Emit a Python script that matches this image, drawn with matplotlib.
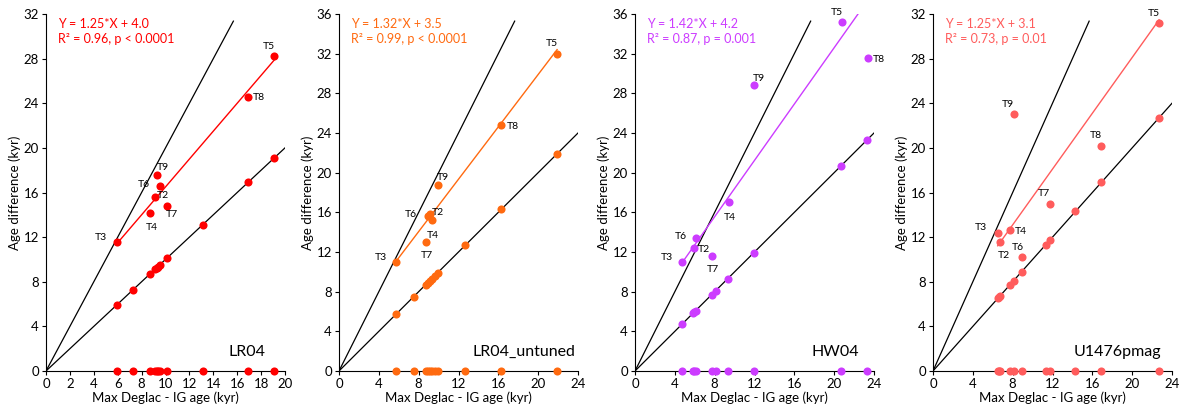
import matplotlib
matplotlib.use('Agg')
import matplotlib.pyplot as plt

plt.rcParams['font.family'] = ['Lato', 'DejaVu Sans']

# panel names, colours, fit text
names = ['LR04', 'LR04_untuned', 'HW04', 'U1476pmag']
colors = ['#FF0000', '#FF6A10', '#CC3CFF', '#FF5C5C']
fit_slope = [1.25, 1.32, 1.42, 1.25]
fit_icpt = [4.0, 3.5, 4.2, 3.1]
fit_r2 = ['0.96', '0.99', '0.87', '0.73']
fit_p = ['p < 0.0001', 'p < 0.0001', 'p = 0.001', 'p = 0.01']
xmax = [20, 24, 24, 24]
ymax = [32, 36, 36, 32]
xstep = [2, 4, 4, 4]

# max deglac - IG age, all terminations (1:1 line and zero line)
lr04_all = [5.9, 7.3, 8.7, 9.1, 9.25, 9.35, 9.5, 10.1, 13.1, 16.9, 19.1]
untuned_all = [5.7, 7.5, 8.7, 8.9, 9.1, 9.3, 9.6, 9.9, 12.7, 16.3, 21.9]
hw04_all = [4.7, 5.8, 5.95, 6.1, 7.7, 8.1, 9.3, 11.9, 20.7, 23.3]
u1476_all = [6.5, 6.6, 6.75, 7.7, 8.1, 8.9, 11.3, 11.7, 14.3, 16.9, 22.7]

# labelled terminations: x, age difference
terms = ['T2', 'T3', 'T4', 'T5', 'T6', 'T7', 'T8', 'T9']
lr04_x = [9.1, 5.9, 8.7, 19.1, 9.5, 10.1, 16.9, 9.3]
lr04_y = [15.6, 11.6, 14.2, 28.2, 16.6, 14.8, 24.6, 17.6]
untuned_x = [9.1, 5.7, 9.3, 21.9, 8.9, 8.7, 16.3, 9.9]
untuned_y = [15.8, 11.0, 15.2, 32.0, 15.6, 13.0, 24.8, 18.8]
hw04_x = [5.9, 4.7, 9.4, 20.8, 6.1, 7.7, 23.4, 11.9]
hw04_y = [12.4, 11.0, 17.0, 35.2, 13.4, 11.6, 31.6, 28.8]
u1476_x = [6.7, 6.5, 7.7, 22.7, 8.9, 11.7, 16.9, 8.1]
u1476_y = [11.6, 12.4, 12.6, 31.2, 10.2, 15.0, 20.2, 23.0]

all_x = [lr04_all, untuned_all, hw04_all, u1476_all]
term_x = [lr04_x, untuned_x, hw04_x, u1476_x]
term_y = [lr04_y, untuned_y, hw04_y, u1476_y]

# label offsets (points) for each panel, in the order of terms
offs = [
    [(6, 1), (-11, 3), (1, -11), (-4, 7), (-11, 1), (4, -6), (8, -1), (4, 5)],
    [(6, 1), (-11, 3), (1, -11), (-4, 7), (-12, 1), (1, -10), (8, -1), (4, 5)],
    [(7, -1), (-11, 3), (1, -11), (-4, 7), (-11, 1), (1, -10), (8, -1), (4, 5)],
    [(3, -10), (-12, 4), (8, -1), (-4, 7), (-3, 7), (-4, 7), (-4, 7), (-4, 7)],
]
name_x = [0.92, 0.987, 0.937, 0.954]

fig = plt.figure(figsize=(11.85, 4.17), dpi=100)
lefts = [46, 339, 635, 933]

for i in range(4):
    ax = fig.add_axes([lefts[i] / 1185, 46 / 417, 239 / 1185, 357 / 417])
    c = colors[i]
    xm, ym = xmax[i], ymax[i]
    ax.plot([0, xm], [0, xm], color='black', lw=0.9, zorder=1)
    ax.plot([0, ym / 2 * 0.98], [0, ym * 0.98], color='black', lw=0.9, zorder=1)
    xs = term_x[i]
    ys = term_y[i]
    xa, xb = min(xs), max(xs)
    ax.plot([xa, xb], [fit_slope[i] * xa + fit_icpt[i], fit_slope[i] * xb + fit_icpt[i]],
            color=c, lw=1.0, zorder=2)
    ax.scatter(all_x[i], all_x[i], s=34, color=c, zorder=3, linewidths=0)
    ax.scatter(all_x[i], [0] * len(all_x[i]), s=34, color=c, zorder=3,
               linewidths=0, clip_on=False)
    ax.scatter(xs, ys, s=34, color=c, zorder=3, linewidths=0, clip_on=False)
    for t, x, y, o in zip(terms, xs, ys, offs[i]):
        ax.annotate(t, (x, y), xytext=o, textcoords='offset points',
                    fontsize=7.5, ha='center', va='center')
    ax.text(0.05, 0.99, f'Y = {fit_slope[i]:.2f}*X + {fit_icpt[i]:.1f}',
            transform=ax.transAxes, color=c, fontsize=9, va='top')
    ax.text(0.05, 0.948, f'R\u00b2 = {fit_r2[i]}, {fit_p[i]}',
            transform=ax.transAxes, color=c, fontsize=9, va='top')
    ax.text(name_x[i], 0.035, names[i], transform=ax.transAxes, fontsize=11.5,
            ha='right', va='bottom')
    ax.set_xlim(0, xm)
    ax.set_ylim(0, ym)
    ax.set_xticks(range(0, xm + 1, xstep[i]))
    ax.set_yticks(range(0, ym + 1, 4))
    ax.spines['top'].set_visible(False)
    ax.spines['right'].set_visible(False)
    ax.tick_params(labelsize=9.5, length=3, width=0.8, pad=2)
    ax.set_xlabel('Max Deglac - IG age (kyr)', fontsize=9.5, labelpad=1)
    ax.set_ylabel('Age difference (kyr)', fontsize=9.5, labelpad=2)

fig.savefig('out.png', dpi=100)
